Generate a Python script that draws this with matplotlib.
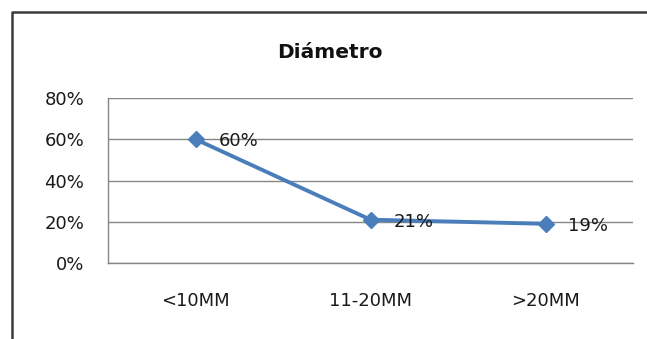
import matplotlib
matplotlib.use("Agg")
import matplotlib.pyplot as plt
from matplotlib.lines import Line2D
from matplotlib.ticker import PercentFormatter

categories = ["<10MM", "11-20MM", ">20MM"]
values = [0.60, 0.21, 0.19]
value_labels = ["60%", "21%", "19%"]
y_ticks = [0.0, 0.2, 0.4, 0.6, 0.8]
title = "Diámetro"

W, H, DPI = 647, 339, 100
fig = plt.figure(figsize=(W / DPI, H / DPI), dpi=DPI)
fig.patch.set_facecolor("white")

# frame around the chart (left and top edges)
frame = Line2D([11.5 / W, 11.5 / W, 1.0], [0.0, 1 - 12 / H, 1 - 12 / H],
               transform=fig.transFigure, color="#3a3a3a", lw=1.8)
fig.add_artist(frame)

left, right, top, bottom = 108 / W, 633 / W, 1 - 98 / H, 1 - 263 / H
ax = fig.add_axes([left, bottom, right - left, top - bottom])

x = list(range(len(categories)))
line_color = "#4A7EBB"
ax.plot(x, values, color=line_color, lw=2.8, marker="D", markersize=8.5,
        markerfacecolor=line_color, markeredgecolor=line_color, zorder=3,
        solid_capstyle="round")

font = "DejaVu Sans"
for xi, v, lab in zip(x, values, value_labels):
    ax.annotate(lab, (xi, v), xytext=(16.5, -1.5), textcoords="offset points",
                ha="left", va="center", fontsize=13, family=font,
                color="#1a1a1a", zorder=4)

ax.set_xlim(-0.5, len(categories) - 0.5)
ax.set_ylim(0, 0.8)
ax.set_yticks(y_ticks)
ax.yaxis.set_major_formatter(PercentFormatter(1.0, decimals=0))
ax.set_xticks(x)
ax.set_xticklabels(categories)

ax.grid(axis="y", color="#868686", lw=1.0)
ax.set_axisbelow(True)
for s in ["top", "right"]:
    ax.spines[s].set_visible(False)
ax.spines["left"].set_color("#868686")
ax.spines["bottom"].set_color("#868686")
ax.spines["left"].set_linewidth(1.0)
ax.spines["bottom"].set_linewidth(1.0)

ax.tick_params(axis="both", length=0, labelsize=13, colors="#1a1a1a")
ax.tick_params(axis="y", pad=17)
ax.tick_params(axis="x", pad=21)
for t in ax.get_xticklabels() + ax.get_yticklabels():
    t.set_family(font)

fig.text(330 / W, 1 - 52 / H, title, ha="center", va="center",
         fontsize=14.5, fontweight="bold", family=font, color="#111111")

fig.savefig("out.png", dpi=DPI)
